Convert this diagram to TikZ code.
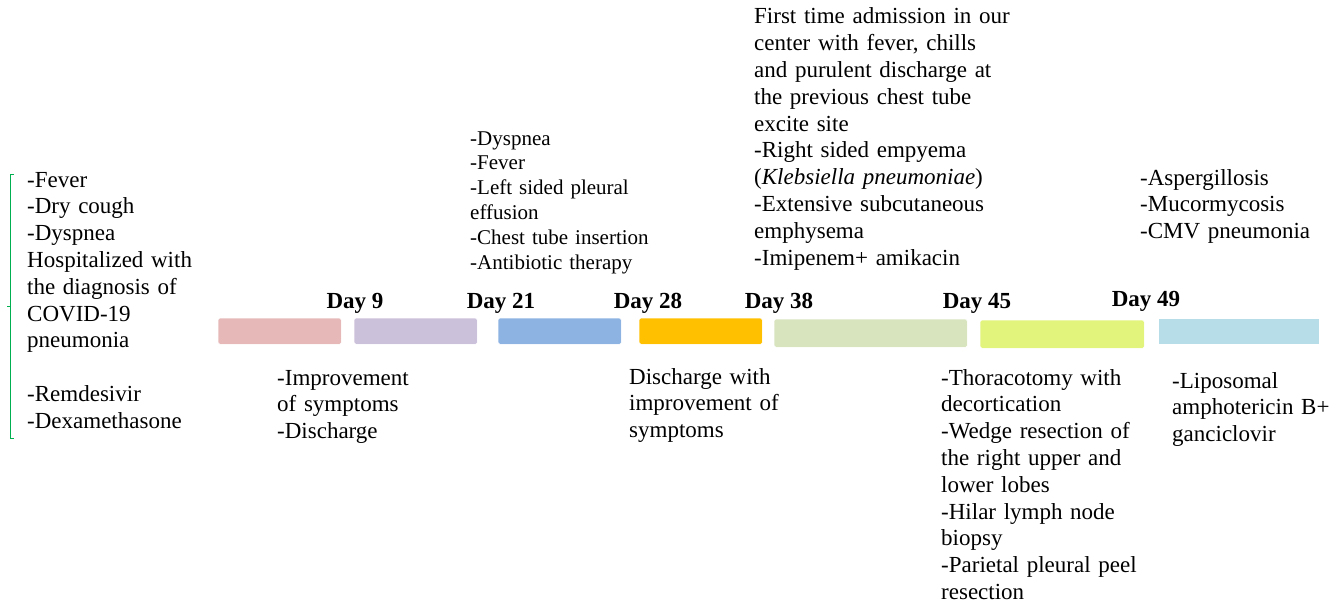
\documentclass[tikz,border=0pt]{standalone}
\usepackage{fontspec}
\setmainfont{LiberationSerif}[
  Extension=.ttf,
  UprightFont=*-Regular,
  BoldFont=*-Bold,
  ItalicFont=*-Italic,
  BoldItalicFont=*-BoldItalic]
\usepackage{xcolor}
\usetikzlibrary{positioning}
\definecolor{barA}{HTML}{E6B9B8}
\definecolor{barB}{HTML}{CCC1DA}
\definecolor{barC}{HTML}{8DB3E2}
\definecolor{barD}{HTML}{FFC000}
\definecolor{barE}{HTML}{D7E4BD}
\definecolor{barF}{HTML}{E3F47D}
\definecolor{barG}{HTML}{B7DDE8}
\definecolor{bracegreen}{HTML}{00B050}
\tikzset{
  bar/.style={
    draw=white,
    thin,
    rounded corners=1.5pt,
    anchor=north west,
    inner sep=0pt,
    minimum height=26pt
  },
  day/.style={
    anchor=base,
    inner sep=0pt,
    font=\fontsize{23}{26.8}\selectfont\bfseries
  },
  event/.style={
    anchor=base west,
    inner sep=0pt,
    text width=260pt,
    align=left,
    font=\fontsize{23}{26.8}\selectfont
  },
  eventsmall/.style={
    event,
    font=\fontsize{21}{24.8}\selectfont
  }
}
\begin{document}
\begin{tikzpicture}[x=1pt,y=-1pt]
    \useasboundingbox (0,0) rectangle (1343,602);
    % bars of the timeline
    \node[bar, fill=barA, minimum width=123pt] (b0) at (218,318) {};
    \node[bar, fill=barB, minimum width=123pt] (b9) at (354,318) {};
    \node[bar, fill=barC, minimum width=123pt] (b21) at (498,318) {};
    \node[bar, fill=barD, minimum width=123pt] (b28) at (639,318) {};
    \node[bar, fill=barE, minimum width=193pt, minimum height=28pt] (b38) at (774,319) {};
    \node[bar, fill=barF, minimum width=164pt, minimum height=28pt] (b45) at (980,320) {};
    \node[bar, fill=barG, minimum width=161pt, rounded corners=0pt] (b49) at (1158,318) {};
    % day labels
    \node[day] (l9) at (355,308) {Day 9};
    \node[day] (l21) at (501,308) {Day 21};
    \node[day] (l28) at (648,308) {Day 28};
    \node[day] (l38) at (779,308) {Day 38};
    \node[day] (l45) at (977,308) {Day 45};
    \node[day] (l49) at (1146,306) {Day 49};
    % green bracket
    \draw[bracegreen, thick] (14,174) -- (10,174) -- (10,438) -- (14,438);
    \draw[bracegreen, thick] (10,306) -- (7,306);
    % events
    \node[event] (e0) at (27,187) {-Fever\\-Dry cough\\-Dyspnea\\Hospitalized with\\the diagnosis of\\COVID-19\\pneumonia\\[26.8pt]-Remdesivir\\-Dexamethasone};
    \node[event] (e9) at (277,385) {-Improvement\\of symptoms\\-Discharge};
    \node[eventsmall] (e21) at (470,145) {-Dyspnea\\-Fever\\-Left sided pleural\\effusion\\-Chest tube insertion\\-Antibiotic therapy};
    \node[event] (e28) at (629,384) {Discharge with\\improvement of\\symptoms};
    \node[event] (e38) at (754,24) {First time admission in our\\center with fever, chills\\and purulent discharge at\\the previous chest tube\\excite site\\-Right sided empyema\\(\textit{Klebsiella pneumoniae})\\-Extensive subcutaneous\\emphysema\\-Imipenem+ amikacin};
    \node[event] (e45) at (941,385) {-Thoracotomy with\\decortication\\-Wedge resection of\\the right upper and\\lower lobes\\-Hilar lymph node\\biopsy\\-Parietal pleural peel\\resection};
    \node[event] (e49a) at (1140,185) {-Aspergillosis\\-Mucormycosis\\-CMV pneumonia};
    \node[event] (e49b) at (1172,388) {-Liposomal\\amphotericin B+\\ganciclovir};
\end{tikzpicture}
\end{document}
